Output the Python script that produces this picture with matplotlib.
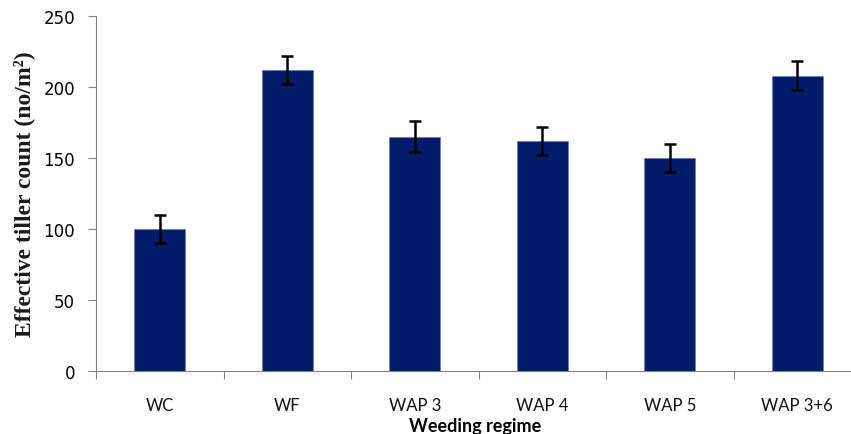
import matplotlib.pyplot as plt
import numpy as np

# weeding treatments and effective tiller counts
regimes = ["WC", "WF", "WAP 3", "WAP 4", "WAP 5", "WAP 3+6"]
tillers = [100, 212, 165, 162, 150, 208]
errors = [10, 10, 11, 10, 10, 10]

fig = plt.figure(figsize=(8.51, 4.35), dpi=100)
ax = fig.add_axes([96 / 851, 63 / 435, 765 / 851, 355 / 435])

x = np.arange(len(regimes))
ax.bar(x, tillers, width=0.4, color="#001C6B", edgecolor="#6f7fb8", linewidth=0.6,
       yerr=errors, error_kw=dict(ecolor="black", elinewidth=1.8, capsize=4, capthick=1.8))

ax.set_xlim(-0.5, len(regimes) - 0.5)
ax.set_ylim(0, 250)
ax.set_yticks(range(0, 251, 50))
ax.tick_params(axis="y", labelsize=12, length=6, width=0.8, color="#808080", pad=9)

# category labels centred, ticks on the boundaries
ax.set_xticks(x)
ax.set_xticklabels(regimes, fontsize=12, family="Lato", color="#111111")
ax.set_xticks(np.arange(-0.5, len(regimes)), minor=True)
ax.tick_params(axis="x", which="major", length=0, pad=19)
ax.tick_params(axis="x", which="minor", length=6, width=0.8, color="#808080")

for side in ["top", "right"]:
    ax.spines[side].set_visible(False)
for side in ["left", "bottom"]:
    ax.spines[side].set_color("#808080")
    ax.spines[side].set_linewidth(0.8)

ax.set_xlabel("Weeding regime", fontsize=13, family="Lato", fontweight="bold")
ax.xaxis.set_label_coords(0.495, -0.13)
ax.set_ylabel("Effective tiller count (no/m²)", fontsize=17,
              family="Liberation Serif", fontweight="bold", color="#1a1a1a")
ax.yaxis.set_label_coords(-0.08, 0.5)

fig.savefig("out.png", dpi=100)
